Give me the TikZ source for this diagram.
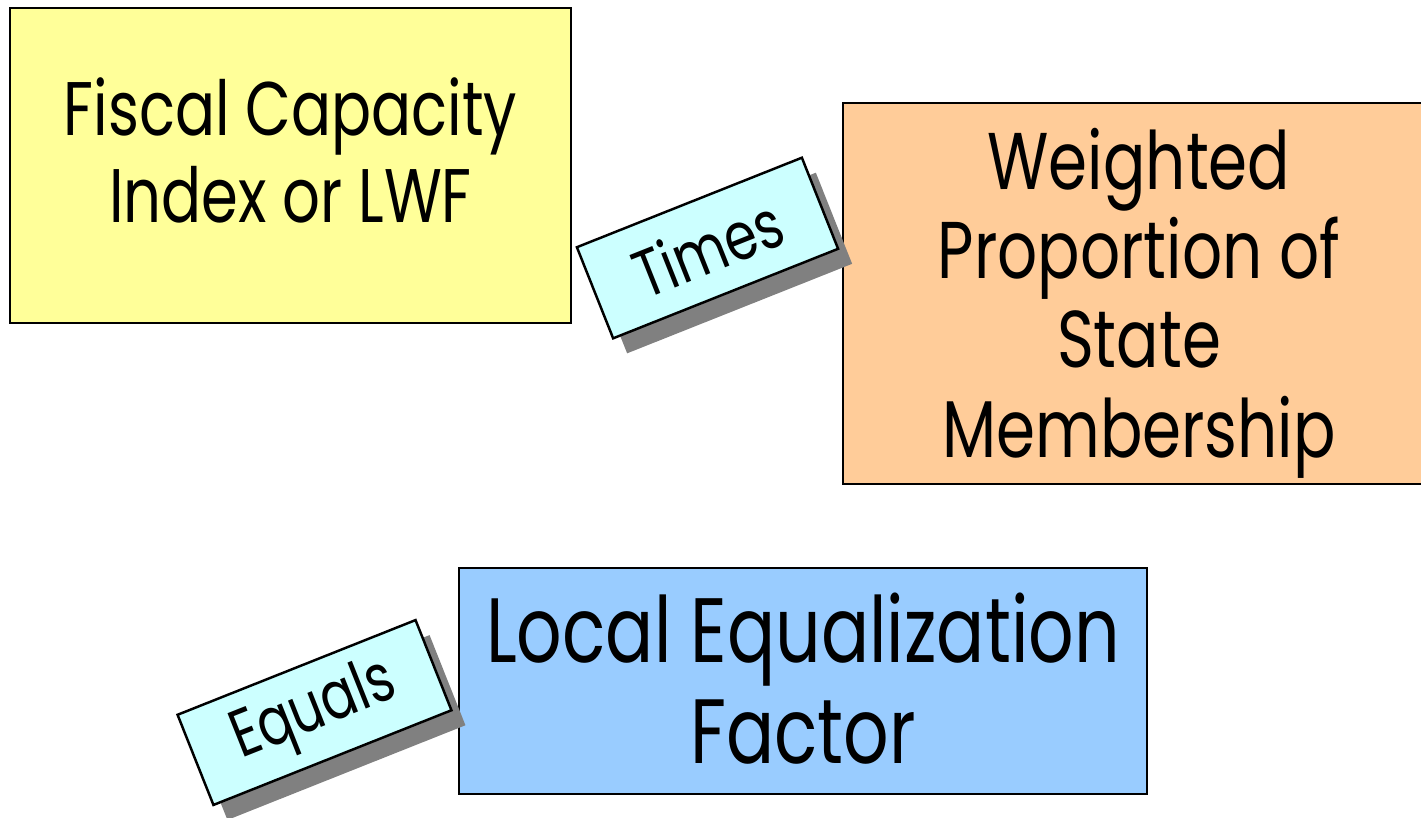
\documentclass[tikz,border=0pt]{standalone}
\usepackage{fontspec}
\setmainfont{Poppins}[FakeStretch=0.78]
\definecolor{boxyellow}{HTML}{FFFF99}
\definecolor{boxorange}{HTML}{FFCC99}
\definecolor{boxblue}{HTML}{99CCFF}
\definecolor{tagcyan}{HTML}{CCFFFF}
\definecolor{tagshadow}{HTML}{808080}
\begin{document}
\begin{tikzpicture}[x=0.01cm,y=-0.01cm,
  panel/.style={draw=black,line width=0.7pt,inner sep=0pt},
  line/.style={anchor=base,inner sep=0pt},
  tag/.style={draw=black,line width=0.7pt,fill=tagcyan,inner sep=0pt,
    minimum width=2.42cm,minimum height=0.98cm,rotate=21.7,font=\fontsize{19}{22}\selectfont},
  tagshade/.style={fill=tagshadow,inner sep=0pt,minimum width=2.42cm,minimum height=0.98cm,rotate=21.7}]
\useasboundingbox (0,0) rectangle (1421,817);
% yellow box: fiscal capacity
\node[panel,fill=boxyellow,minimum width=5.61cm,minimum height=3.15cm] (fiscal) at (290.5,165.5) {};
\begin{scope}[every node/.append style={font=\fontsize{21.6}{26}\selectfont}]
  \node[line] (fiscalA) at (290.5,135) {Fiscal Capacity};
  \node[line] (fiscalB) at (290.5,222) {Index or LWF};
\end{scope}
% orange box: weighted proportion (runs off the right edge)
\path[panel,fill=boxorange] (843,103) coordinate (wtl) rectangle (1440,484) coordinate (wbr);
\begin{scope}[every node/.append style={font=\fontsize{22.9}{27}\selectfont}]
  \node[line] (weightedA) at (1139,189) {Weighted};
  \node[line] (weightedB) at (1139,278) {Proportion of};
  \node[line] (weightedC) at (1139,367) {State};
  \node[line] (weightedD) at (1139,457) {Membership};
\end{scope}
% blue box: result
\node[panel,fill=boxblue,minimum width=6.88cm,minimum height=2.26cm] (lef) at (803,681) {};
\begin{scope}[every node/.append style={font=\fontsize{26}{30}\selectfont}]
  \node[line] (lefA) at (803,662) {Local Equalization};
  \node[line] (lefB) at (803,763) {Factor};
\end{scope}
% operator tags with their drop shadows
\node[tagshade] (timesshade) at (721.5,263) {};
\node[tag] (times) at (707.5,248) {Times};
\node[tagshade,minimum width=2.56cm,minimum height=0.97cm] (equalsshade) at (328.5,727.5) {};
\node[tag,minimum width=2.56cm,minimum height=0.97cm] (equals) at (314.5,712.5) {Equals};
\end{tikzpicture}
\end{document}
